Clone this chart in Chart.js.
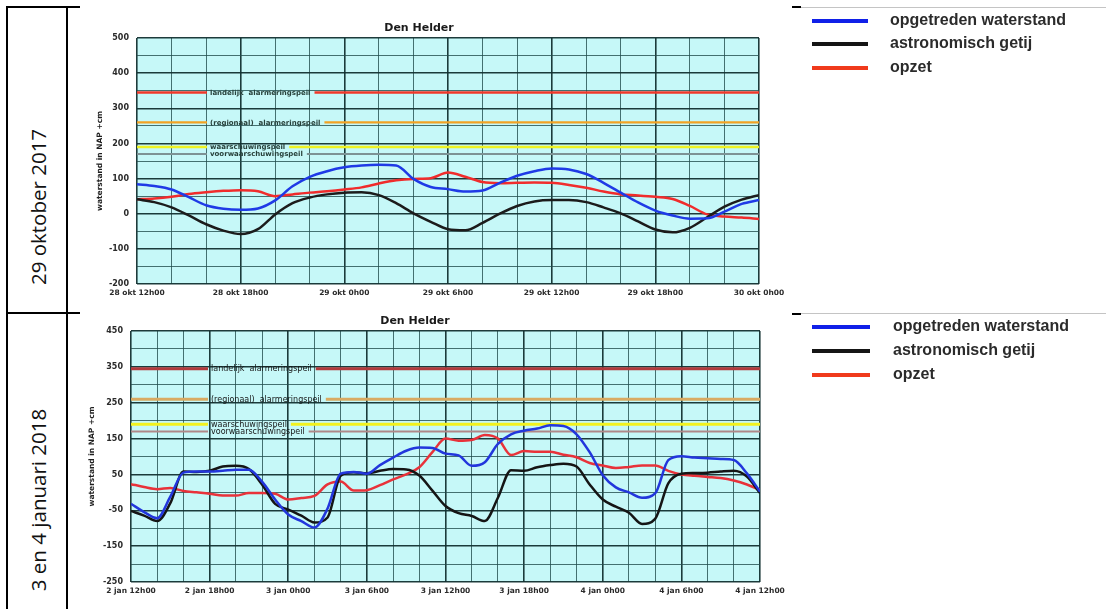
<!DOCTYPE html>
<html>
<head>
<meta charset="utf-8">
<title>Den Helder waterstanden</title>
<script src="https://cdn.jsdelivr.net/npm/chart.js@4.4.0/dist/chart.umd.min.js"></script>
<style>
  html, body { margin: 0; padding: 0; background: #fff; }
  body { width: 1106px; height: 609px; position: relative; overflow: hidden; }
  .rule { position: absolute; background: #000; }
  .rule.light { background: #c4c4c4; }
  .date {
    position: absolute; font-family: "Open Sans", "Noto Sans", sans-serif; font-size: 20.5px; color: #111;
    white-space: nowrap; transform: translate(-50%, -50%) rotate(-90deg);
  }
  canvas.plot { position: absolute; filter: blur(0.35px); }
  .legend { position: absolute; left: 800px; width: 306px; height: 90px; filter: blur(0.3px); }
  .legend .swatch { position: absolute; height: 4px; }
  .legend .txt {
    position: absolute; font-family: "Liberation Sans", Arial, sans-serif; font-weight: bold;
    font-size: 16px; color: #2b2b2b; white-space: nowrap; line-height: 18px;
  }
</style>
</head>
<body>

<!-- table frame -->
<div class="rule" style="left:6px;top:6px;width:2px;height:603px"></div>
<div class="rule" style="left:66px;top:6px;width:2px;height:603px"></div>
<div class="rule" style="left:6px;top:6px;width:74px;height:2px"></div>
<div class="rule" style="left:6px;top:312px;width:74px;height:2px"></div>
<div class="rule" style="left:792px;top:6px;width:9px;height:2px"></div>
<div class="rule" style="left:792px;top:313px;width:9px;height:2px"></div>
<div class="rule light" style="left:801px;top:7px;width:305px;height:1px"></div>
<div class="rule light" style="left:801px;top:313px;width:305px;height:1px"></div>

<div class="date" style="left:38px;top:207px">29 oktober 2017</div>
<div class="date" style="left:38px;top:500px">3 en 4 januari 2018</div>

<canvas id="chart1" class="plot" width="720" height="302" style="left:70px;top:8px"></canvas>
<canvas id="chart2" class="plot" width="730" height="298" style="left:64px;top:311px"></canvas>

<div id="legend1" class="legend" style="top:8px"></div>
<div id="legend2" class="legend" style="top:314px"></div>

<script>
// Series names shown in the legends
const seriesNames = ['opgetreden waterstand', 'astronomisch getij', 'opzet'];

// Warning / alarm levels (cm NAP) and their names
const levelNames = ['landelijk  alarmeringspeil', '(regionaal)  alarmeringspeil', 'waarschuwingspeil', 'voorwaarschuwingspeil'];
const levels1 = [345, 260, 190, 170];
const levels2 = [345, 260, 190, 170];

// ---- 28/29 oktober 2017: hours after 28 okt 12h00 ----
const hours1 = [0,1,2,3,4,5,6,7,8,9,10,11,12,13,14,15,16,17,18,19,20,21,22,23,24,25,26,27,28,29,30,31,32,33,34,35,36];
const waterstand1 = [84,79,69,47,24,14,11,15,38,78,105,121,132,137,139,137,99,76,70,63,66,88,108,121,129,126,113,88,60,32,9,-5,-14,-13,6,28,39];
const getij1 = [41,33,18,-5,-30,-48,-58,-44,-2,30,46,55,60,61,53,30,1,-23,-44,-47,-26,0,22,35,39,39,33,18,1,-22,-45,-53,-40,-10,20,40,53];
const opzet1 = [41,43,48,56,61,65,67,64,50,55,60,64,69,75,86,95,99,101,117,105,90,87,88,89,88,82,74,63,55,52,48,42,22,-2,-8,-11,-15];
const xLabels1 = ['28 okt 12h00', '28 okt 18h00', '29 okt 0h00', '29 okt 6h00', '29 okt 12h00', '29 okt 18h00', '30 okt 0h00'];
const yLabels1 = [-200, -100, 0, 100, 200, 300, 400, 500];

// ---- 2/3/4 januari 2018: hours after 2 jan 12h00 ----
const hours2 = [0,1,2,3,4,5,6,7,8,9,10,11,12,13,14,15,16,17,18,19,20,21,22,23,24,25,26,27,28,29,30,31,32,33,34,35,36,37,38,39,40,41,42,43,44,45,46,47,48];
const waterstand2 = [-32,-55,-72,-12,55,58,58,60,63,63,30,-20,-62,-80,-98,-45,52,57,52,76,97,116,125,124,108,103,74,84,135,162,172,178,187,185,162,112,48,14,0,-15,-3,90,101,97,95,93,90,53,2];
const getij2 = [-52,-65,-80,-30,58,57,60,72,74,65,22,-32,-48,-65,-84,-70,46,56,53,60,65,64,47,5,-38,-58,-66,-80,-15,62,60,70,76,80,72,22,-20,-40,-57,-88,-74,25,52,54,55,58,60,44,-2];
const opzet2 = [23,15,9,12,4,0,-4,-9,-9,-2,-2,-4,-20,-16,-10,22,30,5,6,20,36,50,70,112,150,144,146,160,150,104,115,113,113,105,98,82,75,68,71,75,75,60,50,46,43,40,33,22,7];
const xLabels2 = ['2 jan 12h00', '2 jan 18h00', '3 jan 0h00', '3 jan 6h00', '3 jan 12h00', '3 jan 18h00', '4 jan 0h00', '4 jan 6h00', '4 jan 12h00'];
const yLabels2 = [-250, -150, -50, 50, 150, 250, 350, 450];

// Fills the plotting area with the light cyan paper colour
const plotBackground = {
  id: 'plotBackground',
  beforeDraw(chart, args, opts) {
    const { ctx, chartArea: a } = chart;
    ctx.save();
    ctx.fillStyle = opts.color;
    ctx.fillRect(a.left, a.top, a.right - a.left, a.bottom - a.top);
    ctx.restore();
  }
};

// Horizontal level lines, interrupted where their name is written
const levelLines = {
  id: 'levelLines',
  beforeDatasetsDraw(chart, args, o) {
    const { ctx, chartArea: a, scales: { y } } = chart;
    ctx.save();
    ctx.font = o.font;
    ctx.textBaseline = 'middle';
    o.values.forEach((v, i) => {
      const py = y.getPixelForValue(v);
      const gapStart = a.left + o.gapStart;
      const tx = gapStart + 3;
      const gapEnd = tx + ctx.measureText(o.names[i]).width + 4;
      ctx.strokeStyle = o.colors[i];
      ctx.lineWidth = o.widths[i];
      ctx.beginPath();
      ctx.moveTo(a.left, py); ctx.lineTo(gapStart, py);
      ctx.moveTo(gapEnd, py); ctx.lineTo(a.right, py);
      ctx.stroke();
      ctx.fillStyle = o.textColor;
      ctx.fillText(o.names[i], tx, py + 0.5);
    });
    ctx.restore();
  }
};

// Station name above the plot
const stationTitle = {
  id: 'stationTitle',
  afterDraw(chart, args, o) {
    const c = chart.ctx;
    c.save();
    c.font = o.font; c.fillStyle = o.color;
    c.textAlign = 'center'; c.textBaseline = 'middle';
    c.fillText(o.text, o.x, o.y);
    c.restore();
  }
};

function buildChart(id, cfg) {
  const gridMinor = 'rgba(34,78,78,0.8)';
  const gridMajor = 'rgba(18,48,48,0.95)';
  return new Chart(document.getElementById(id), {
    type: 'line',
    data: {
      datasets: cfg.series.map((values, k) => ({
        label: seriesNames[k],
        data: cfg.hours.map((h, i) => ({ x: h, y: values[i] })),
        borderColor: cfg.colors[k],
        borderWidth: 2.5,
        pointRadius: 0,
        cubicInterpolationMode: 'monotone',
        fill: false
      }))
    },
    plugins: [plotBackground, levelLines, stationTitle],
    options: {
      responsive: false,
      animation: false,
      events: [],
      layout: { padding: { top: cfg.padTop, right: cfg.padRight, left: 0, bottom: 0 } },
      plugins: {
        legend: { display: false },
        tooltip: { enabled: false },
        plotBackground: { color: '#c6f8f8' },
        levelLines: {
          values: cfg.levels, names: levelNames, colors: cfg.levelColors, widths: cfg.levelWidths,
          gapStart: cfg.gapStart, font: cfg.levelFont, textColor: cfg.levelTextColor
        },
        stationTitle: { text: 'Den Helder', x: cfg.titleX, y: cfg.titleY, font: 'bold 11px "DejaVu Sans"', color: '#1a1a1a' }
      },
      scales: {
        x: {
          type: 'linear',
          min: cfg.hours[0], max: cfg.hours[cfg.hours.length - 1],
          afterFit: (s) => { s.height = cfg.xAxisHeight; },
          border: { display: false },
          grid: {
            drawTicks: false,
            color: (c) => (c.tick && c.tick.value % 6 === 0 ? gridMajor : gridMinor),
            lineWidth: (c) => (c.tick && c.tick.value % 6 === 0 ? 1.6 : 1)
          },
          ticks: {
            stepSize: 2, autoSkip: false, maxRotation: 0, minRotation: 0, padding: 5,
            color: '#2a2a2a', font: { family: 'DejaVu Sans', weight: 'bold', size: 7.5 },
            callback: (v) => (v % 6 === 0 ? cfg.xLabels[v / 6] : '')
          }
        },
        y: {
          min: cfg.yLabels[0], max: cfg.yLabels[cfg.yLabels.length - 1],
          afterFit: (s) => { s.width = 67; },
          border: { display: false },
          grid: {
            drawTicks: false,
            color: (c) => (c.tick && cfg.yLabels.includes(c.tick.value) ? gridMajor : gridMinor),
            lineWidth: (c) => (c.tick && cfg.yLabels.includes(c.tick.value) ? 1.4 : 1)
          },
          ticks: {
            stepSize: 50, autoSkip: false, padding: 8,
            color: '#2a2a2a', font: { family: 'DejaVu Sans', weight: 'bold', size: 8 },
            callback: (v) => (cfg.yLabels.includes(v) ? String(v) : '')
          },
          title: {
            display: true, text: 'waterstand in NAP +cm', color: '#1f1f1f',
            font: { family: 'DejaVu Sans', weight: 'bold', size: 7.5 },
            padding: { top: cfg.yTitlePad, bottom: 0 }
          }
        }
      }
    }
  });
}

buildChart('chart1', {
  hours: hours1,
  series: [waterstand1, getij1, opzet1],
  colors: ['#1f3ae6', '#1c1c1c', '#f02c2c'],
  xLabels: xLabels1, yLabels: yLabels1,
  levels: levels1,
  levelColors: ['#f0382a', '#f2a224', '#eef222', '#7d9294'],
  levelWidths: [2.5, 2.2, 2.5, 2],
  levelFont: 'bold 7px "DejaVu Sans"', levelTextColor: '#27403a',
  gapStart: 70,
  padTop: 30, padRight: 31, xAxisHeight: 26, yTitlePad: 25.5,
  titleX: 349, titleY: 20
});

buildChart('chart2', {
  hours: hours2,
  series: [waterstand2, getij2, opzet2],
  colors: ['#2236dc', '#151515', '#e8323a'],
  xLabels: xLabels2, yLabels: yLabels2,
  levels: levels2,
  levelColors: ['#b23a3c', '#d9aa62', '#f2f21e', '#b08888'],
  levelWidths: [3, 3, 3, 2],
  levelFont: '8px "DejaVu Sans"', levelTextColor: '#161616',
  gapStart: 77,
  padTop: 20, padRight: 34, xAxisHeight: 27, yTitlePad: 23.5,
  titleX: 351, titleY: 10
});

// Legend panels beside each chart
function buildLegend(id, colors, rowTops, swatchLeft, swatchWidth, textLeft) {
  const box = document.getElementById(id);
  seriesNames.forEach((name, i) => {
    const sw = document.createElement('div');
    sw.className = 'swatch';
    sw.style.left = swatchLeft + 'px';
    sw.style.width = swatchWidth + 'px';
    sw.style.top = (rowTops[i] - 2) + 'px';
    sw.style.background = colors[i];
    box.appendChild(sw);
    const t = document.createElement('div');
    t.className = 'txt';
    t.style.left = textLeft + 'px';
    t.style.top = (rowTops[i] - 10) + 'px';
    t.textContent = name;
    box.appendChild(t);
  });
}
buildLegend('legend1', ['#1020e8', '#151515', '#f03a1c'], [13, 36, 60], 12, 56, 90);
buildLegend('legend2', ['#1020e8', '#151515', '#f03a1c'], [13, 37, 61], 12, 58, 93);
</script>
</body>
</html>
